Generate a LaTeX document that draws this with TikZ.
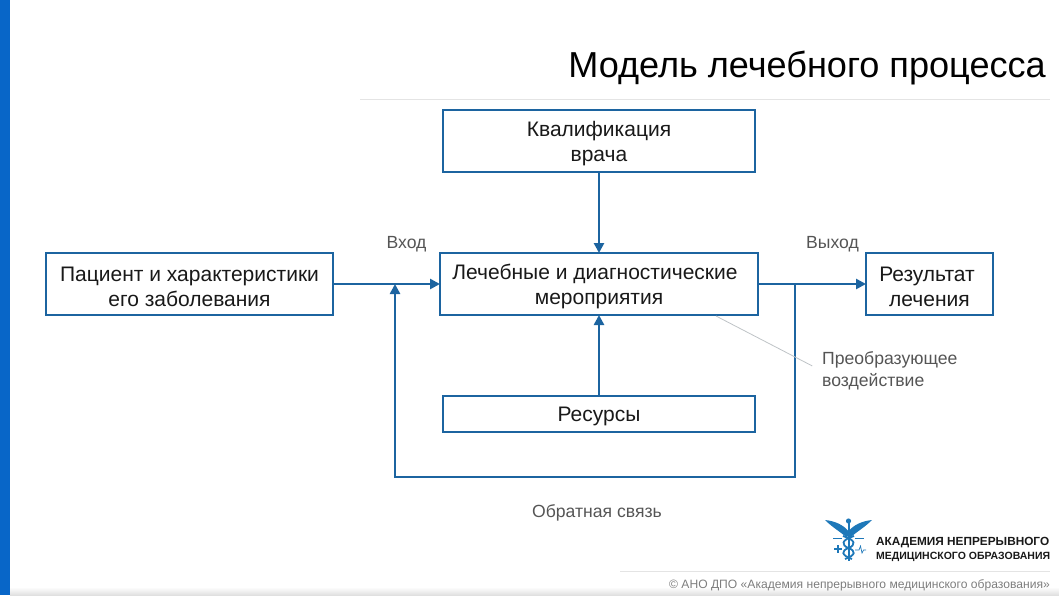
\documentclass[tikz,border=0pt]{standalone}
\usepackage{fontspec}
\setmainfont{Liberation Sans}
\usetikzlibrary{arrows.meta, positioning, calc}
\definecolor{SideBlue}{RGB}{8, 102, 200}
\definecolor{LineBlue}{RGB}{28, 100, 160}
\definecolor{LogoBlue}{RGB}{30, 120, 185}
\definecolor{NoteGray}{RGB}{85, 85, 85}
\definecolor{RuleGray}{RGB}{228, 228, 228}
\definecolor{FootGray}{RGB}{125, 125, 125}
\definecolor{LeadGray}{RGB}{190, 195, 198}
\definecolor{TextDark}{RGB}{25, 25, 25}
\newcommand{\lowline}{\rule{0pt}{20pt}}
\tikzset{
    procbox/.style={draw=LineBlue, line width=2.6pt, fill=white, align=center, text=TextDark, font=\fontsize{21}{25}\selectfont, inner sep=0pt, outer sep=0pt},
    notetext/.style={text=NoteGray, font=\fontsize{17.6}{22}\selectfont, align=left, inner sep=0pt},
    flow/.style={draw=LineBlue, line width=2.6pt, -{Triangle[length=10pt, width=10pt]}}
}
\begin{document}
\begin{tikzpicture}[x=1pt, y=-1pt]
    \useasboundingbox (0,0) rectangle (1059,595);
    \fill[SideBlue] (0,0) rectangle (10,595);
    \shade[top color=white, bottom color=black!12] (10,587) rectangle (1059,595);
    % title
    \node[anchor=base east, inner sep=0pt, text=black, font=\fontsize{36.1}{40}\selectfont] (title) at (1046,77) {Модель лечебного процесса};
    \coordinate (ruleA) at (360,99);
    \coordinate (ruleB) at (1050,99);
    \draw[RuleGray, line width=0.8pt] (ruleA) -- (ruleB);
    % blocks
    \node[procbox, minimum width=318pt, minimum height=62pt] (proc) at (599,284) {\lowline Лечебные и диагностические\hspace*{8pt}\\мероприятия};
    \node[procbox, above=81pt of proc, minimum width=312pt, minimum height=62pt] (skill) {\lowline Квалификация\\врача};
    \node[procbox, below=81pt of proc, minimum width=312pt, minimum height=36pt] (res) {\lowline Ресурсы};
    \node[procbox, left=107pt of proc, minimum width=287pt, minimum height=62pt] (patient) {\lowline Пациент и характеристики\\его заболевания};
    \node[procbox, right=108pt of proc, minimum width=127pt, minimum height=62pt] (result) {\lowline Результат\hspace*{5pt}\\лечения};
    % labels
    \node[notetext, anchor=center] (inlabel) at (406.5,244) {Вход};
    \node[notetext, anchor=center] (outlabel) at (832.5,244) {Выход};
    \node[notetext, anchor=west] (note) at (822,371) {Преобразующее\\воздействие};
    \node[notetext, anchor=center] (backlabel) at (597,513) {Обратная связь};
    % connectors
    \draw[flow] (skill) -- (proc);
    \draw[flow] (res) -- (proc);
    \draw[flow] (patient) -- (proc);
    \draw[flow] (proc) -- (result);
    \coordinate (tap) at ($(proc.east)+(37,0)$);
    \coordinate (join) at ($(proc.west)+(-45,0)$);
    \coordinate (backR) at ($(tap)+(0,193)$);
    \coordinate (backL) at ($(join)+(0,193)$);
    \draw[flow] (tap) -- (backR) -- (backL) -- (join);
    \coordinate (lead) at ($(proc.south east)+(-42,1)$);
    \draw[LeadGray, line width=0.8pt, shorten >=11pt] (lead) -- (note.west);
    % logo
    \fill[LogoBlue] (825,520) .. controls (835,521) and (844,525) .. (849,532) -- (847,538) .. controls (841,532) and (833,528) .. (825,520) -- cycle;
    \fill[LogoBlue] (872,520) .. controls (862,521) and (853,525) .. (848,532) -- (850,538) .. controls (856,532) and (864,528) .. (872,520) -- cycle;
    \fill[LogoBlue] (848.5,521) circle (2.6pt);
    \draw[LogoBlue, line width=2pt] (848.5,523) -- (848.5,561);
    \draw[LogoBlue, line width=1.8pt] (843,536) .. controls (856,540) and (856,545) .. (848.5,548) .. controls (841,551) and (841,555) .. (852,559);
    \draw[LogoBlue, line width=1.8pt] (854,536) .. controls (841,540) and (841,545) .. (848.5,548) .. controls (856,551) and (856,555) .. (845,559);
    \draw[LogoBlue, line width=0.8pt] (833,538) -- (842,538);
    \draw[LogoBlue, line width=0.8pt] (855,538) -- (864,538);
    \draw[LogoBlue, line width=2.4pt] (834,549) -- (842,549);
    \draw[LogoBlue, line width=2.4pt] (838,545) -- (838,553);
    \draw[LogoBlue, line width=0.7pt] (855,550) -- (859,550) -- (860.5,546) -- (862,553) -- (863.5,550) -- (866,550);
    \node[anchor=base west, inner sep=0pt, text=TextDark, font=\bfseries\fontsize{11.8}{13}\selectfont] (logoA) at (876,545) {АКАДЕМИЯ НЕПРЕРЫВНОГО};
    \node[anchor=base west, inner sep=0pt, text=TextDark, font=\bfseries\fontsize{10.5}{13}\selectfont] (logoB) at (876,559) {МЕДИЦИНСКОГО ОБРАЗОВАНИЯ};
    % footer
    \coordinate (footA) at (620,571);
    \coordinate (footB) at (1050,571);
    \draw[RuleGray, line width=0.8pt] (footA) -- (footB);
    \node[anchor=base east, inner sep=0pt, text=FootGray, font=\fontsize{12.1}{13}\selectfont] (foot) at (1050,588) {© АНО ДПО «Академия непрерывного медицинского образования»};
\end{tikzpicture}
\end{document}
